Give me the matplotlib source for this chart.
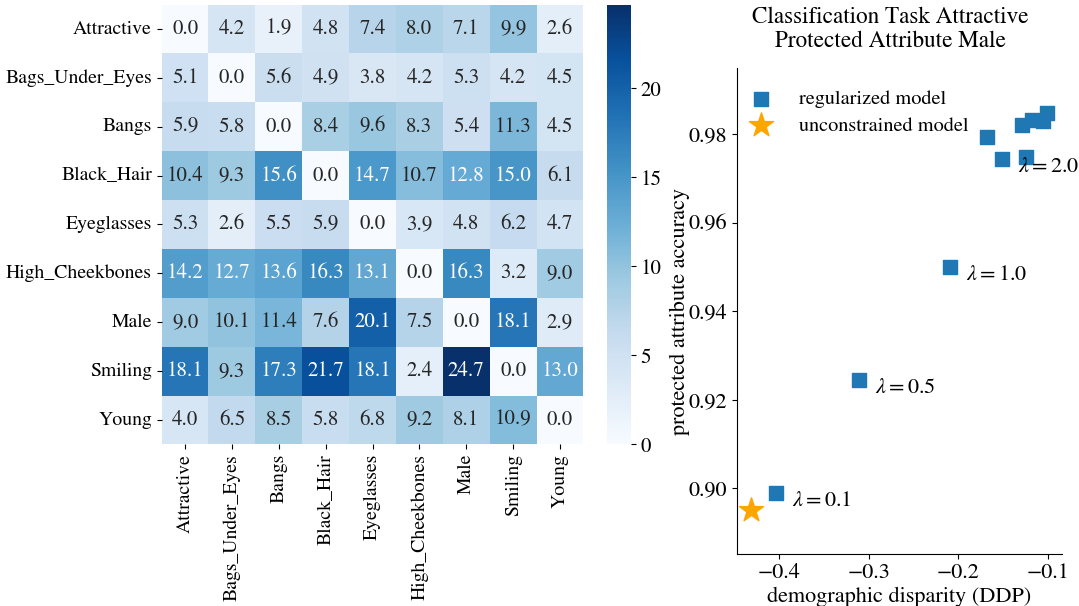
import numpy as np
import matplotlib
matplotlib.use("Agg")
import matplotlib.pyplot as plt
import seaborn as sns

plt.rcParams["font.family"] = ["STIXGeneral", "Liberation Serif", "DejaVu Serif"]
plt.rcParams["mathtext.fontset"] = "stix"

attributes = ["Attractive", "Bags_Under_Eyes", "Bangs", "Black_Hair", "Eyeglasses",
              "High_Cheekbones", "Male", "Smiling", "Young"]

transfer = np.array([
    [0.0, 4.2, 1.9, 4.8, 7.4, 8.0, 7.1, 9.9, 2.6],
    [5.1, 0.0, 5.6, 4.9, 3.8, 4.2, 5.3, 4.2, 4.5],
    [5.9, 5.8, 0.0, 8.4, 9.6, 8.3, 5.4, 11.3, 4.5],
    [10.4, 9.3, 15.6, 0.0, 14.7, 10.7, 12.8, 15.0, 6.1],
    [5.3, 2.6, 5.5, 5.9, 0.0, 3.9, 4.8, 6.2, 4.7],
    [14.2, 12.7, 13.6, 16.3, 13.1, 0.0, 16.3, 3.2, 9.0],
    [9.0, 10.1, 11.4, 7.6, 20.1, 7.5, 0.0, 18.1, 2.9],
    [18.1, 9.3, 17.3, 21.7, 18.1, 2.4, 24.7, 0.0, 13.0],
    [4.0, 6.5, 8.5, 5.8, 6.8, 9.2, 8.1, 10.9, 0.0],
])

# regularized model sweep: demographic disparity vs. accuracy
reg_ddp = [-0.4037, -0.3105, -0.2096, -0.1683, -0.1516, -0.1239, -0.1287, -0.1179, -0.1056, -0.1003]
reg_acc = [0.8990, 0.9245, 0.9499, 0.9793, 0.9743, 0.9748, 0.9820, 0.9831, 0.9829, 0.9847]
lambda_labels = {0: r"$\lambda = 0.1$", 1: r"$\lambda = 0.5$", 2: r"$\lambda = 1.0$", 4: r"$\lambda = 2.0$"}

base_ddp = [-0.4316]
base_acc = [0.8951]

fs_hm = 14.2
fig = plt.figure(figsize=(10.79, 6.06), dpi=100)
ax_hm = fig.add_axes([0.1498, 0.2667, 0.3909, 0.7257])
ax_cb = fig.add_axes([0.5626, 0.2667, 0.0222, 0.7257])
ax_sc = fig.add_axes([0.6828, 0.0858, 0.3015, 0.8015])

sns.heatmap(transfer, ax=ax_hm, cbar_ax=ax_cb, cmap="Blues", annot=True, fmt=".1f",
            annot_kws={"fontsize": 15}, xticklabels=attributes, yticklabels=attributes)
ax_hm.set_xticklabels(attributes, rotation=90, fontsize=fs_hm)
ax_hm.set_yticklabels(attributes, rotation=0, fontsize=fs_hm)
ax_cb.tick_params(labelsize=15)
ax_cb.set_yticks([0, 5, 10, 15, 20])

ax_sc.scatter(reg_ddp, reg_acc, marker="s", s=90, color="#1f77b4", label="regularized model", zorder=3)
ax_sc.scatter(base_ddp, base_acc, marker="*", s=330, color="orange", label="unconstrained model", zorder=3)
for i, txt in lambda_labels.items():
    ax_sc.annotate(txt, (reg_ddp[i], reg_acc[i]), xytext=(11.5, -6), textcoords="offset points",
                   ha="left", va="center", fontsize=16)

ax_sc.set_xlim(-0.4476, -0.084)
ax_sc.set_ylim(0.8852, 0.9948)
ax_sc.set_xticks([-0.4, -0.3, -0.2, -0.1])
ax_sc.set_yticks([0.90, 0.92, 0.94, 0.96, 0.98])
ax_sc.set_xticklabels(["\u22120.4", "\u22120.3", "\u22120.2", "\u22120.1"])
ax_sc.tick_params(labelsize=16)
ax_sc.spines["top"].set_visible(False)
ax_sc.spines["right"].set_visible(False)
ax_sc.set_xlabel("demographic disparity (DDP)", fontsize=16, labelpad=2)
ax_sc.set_ylabel("protected attribute accuracy", fontsize=16, labelpad=-1)
ax_sc.set_title("Classification Task Attractive\nProtected Attribute Male", fontsize=16.7,
                pad=15, x=0.471)
ax_sc.legend(loc="upper left", bbox_to_anchor=(0.0, 0.985), frameon=False, fontsize=14.6,
             handlelength=1.0, handletextpad=1.35, labelspacing=0.42, borderaxespad=0.3)

fig.savefig("out.png", dpi=100)
